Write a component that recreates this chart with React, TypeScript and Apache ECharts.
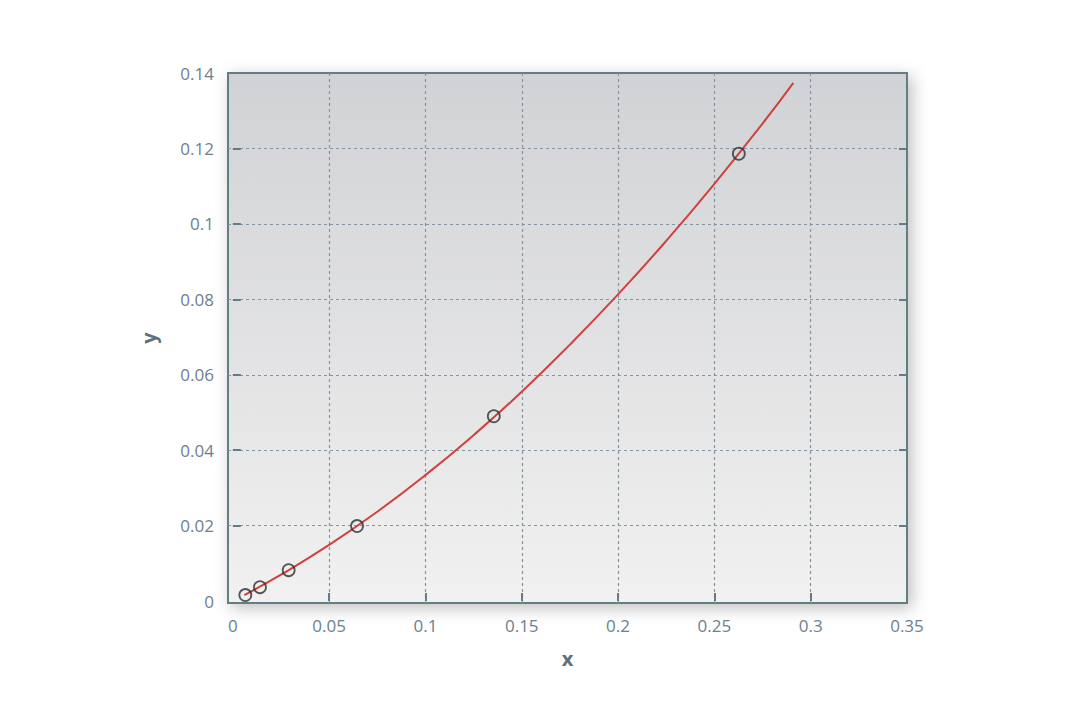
import React, { useEffect, useRef } from "react";
import * as echarts from "echarts";

const pointX = [0.0065, 0.0141, 0.029, 0.0645, 0.1355, 0.2627];
const pointY = [0.0016, 0.0037, 0.0082, 0.0199, 0.049, 0.1186];

const curveX = [0.006, 0.025, 0.05, 0.075, 0.1, 0.125, 0.15, 0.175, 0.2, 0.225, 0.25, 0.275, 0.291];
const curveY = [0.0016, 0.007, 0.0149, 0.0237, 0.0334, 0.044, 0.0555, 0.068, 0.0813, 0.0955, 0.1106, 0.1266, 0.1374];

const xTickLabels = [0, 0.05, 0.1, 0.15, 0.2, 0.25, 0.3, 0.35];
const yTickLabels = [0, 0.02, 0.04, 0.06, 0.08, 0.1, 0.12, 0.14];
const xTickMarks = [0.05, 0.1, 0.15, 0.2, 0.25, 0.3];
const yTickMarks = [0.02, 0.04, 0.06, 0.08, 0.1, 0.12];

const labelColor = "#6c818d";
const borderColor = "#637b86";
const gridColor = "#8495a0";
const font = "'Open Sans', 'Noto Sans', sans-serif";

export default function App() {
  const ref = useRef<HTMLDivElement>(null);
  useEffect(() => {
    if (!ref.current) return;
    const chart = echarts.init(ref.current, undefined, { renderer: "svg" });
    const fmt = (v: number) => String(Math.round(v * 1000) / 1000);
    chart.setOption({
      animation: false,
      backgroundColor: "#ffffff",
      grid: {
        left: 228,
        right: 173,
        top: 73,
        bottom: 117,
        show: true,
        borderColor: borderColor,
        borderWidth: 2,
        backgroundColor: new echarts.graphic.LinearGradient(0, 0, 0, 1, [
          { offset: 0, color: "#d1d2d5" },
          { offset: 1, color: "#f1f1f1" },
        ]),
        shadowBlur: 16,
        shadowColor: "rgba(0,0,0,0.25)",
        shadowOffsetX: 4,
        shadowOffsetY: 4,
      },
      xAxis: {
        type: "value",
        min: -0.0025,
        max: 0.35,
        name: "x",
        nameLocation: "middle",
        nameGap: 45,
        nameTextStyle: { color: "#5c717d", fontSize: 20, fontWeight: "bold", fontFamily: font },
        axisLine: { show: false },
        axisTick: {
          show: true,
          inside: true,
          length: 8,
          customValues: xTickMarks,
          lineStyle: { color: borderColor, width: 2 },
        },
        axisLabel: {
          customValues: xTickLabels,
          color: labelColor,
          fontSize: 17,
          fontFamily: font,
          margin: 14,
          formatter: fmt,
        },
        splitLine: {
          show: true,
          lineStyle: { color: gridColor, type: [3, 3], width: 1.2 },
        },
      },
      yAxis: [
        {
          type: "value",
          min: -0.0005,
          max: 0.14,
          name: "y",
          nameLocation: "middle",
          nameGap: 70,
          nameRotate: 90,
          nameTextStyle: { color: "#5c717d", fontSize: 20, fontWeight: "bold", fontFamily: font },
          axisLine: { show: false },
          axisTick: {
            show: true,
            inside: true,
            length: 8,
            customValues: yTickMarks,
            lineStyle: { color: borderColor, width: 2 },
          },
          axisLabel: {
            customValues: yTickLabels,
            color: labelColor,
            fontSize: 17,
            fontFamily: font,
            margin: 14,
            formatter: fmt,
          },
          splitLine: {
            show: true,
            lineStyle: { color: gridColor, type: [3, 3], width: 1.2 },
          },
        },
        {
          type: "value",
          min: -0.0005,
          max: 0.14,
          position: "right",
          axisLine: { show: false },
          axisTick: {
            show: true,
            inside: true,
            length: 8,
            customValues: yTickMarks,
            lineStyle: { color: borderColor, width: 2 },
          },
          axisLabel: { show: false },
          splitLine: { show: false },
        },
      ],
      series: [
        {
          type: "line",
          data: curveX.map((x, i) => [x, curveY[i]]),
          smooth: true,
          symbol: "none",
          lineStyle: { color: "#d0413e", width: 2 },
          z: 2,
        },
        {
          type: "scatter",
          data: pointX.map((x, i) => [x, pointY[i]]),
          symbol: "circle",
          symbolSize: 12,
          itemStyle: { color: "rgba(0,0,0,0)", borderColor: "#2b2f33", borderWidth: 1.8 },
          z: 3,
        },
      ],
    });
    return () => chart.dispose();
  }, []);
  return (
    <div
      ref={ref}
      style={{ position: "fixed", left: 0, top: 0, width: 1080, height: 720 }}
    />
  );
}
